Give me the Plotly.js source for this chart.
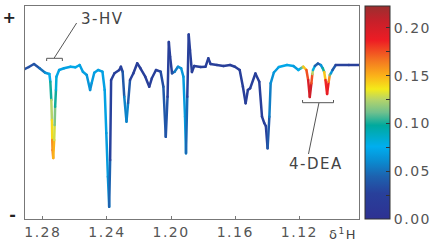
<!DOCTYPE html>
<html>
<head>
<meta charset="utf-8">
<script src="https://cdn.plot.ly/plotly-3.0.1.min.js"></script>
<style>
html,body{margin:0;padding:0;background:#fff;}
#chart{width:442px;height:245px;}
.js-line{stroke-linecap:round;stroke-linejoin:round;}
text{letter-spacing:1.5px;}
.ytick text{letter-spacing:0;}
</style>
</head>
<body>
<div id="chart"></div>
<script>
// chemical shift (ppm)
const shift = [1.2911,1.2887,1.2855,1.2820,1.2785,1.2759,1.2753,1.2747,1.2743,1.2741,1.2739,1.2735,1.2729,1.2726,1.2723,1.2718,1.2715,1.2698,1.2668,1.2627,1.2597,1.2570,1.2550,1.2526,1.2505,1.2495,1.2479,1.2455,1.2428,1.2414,1.2404,1.2394,1.2386,1.2380,1.2374,1.2353,1.2323,1.2313,1.2302,1.2292,1.2278,1.2268,1.2256,1.2235,1.2211,1.2191,1.2161,1.2136,1.2120,1.2094,1.2065,1.2048,1.2033,1.2022,1.2014,1.2006,1.1994,1.1978,1.1957,1.1937,1.1923,1.1913,1.1907,1.1899,1.1890,1.1882,1.1870,1.1856,1.1815,1.1785,1.1768,1.1754,1.1714,1.1673,1.1632,1.1602,1.1572,1.1552,1.1535,1.1521,1.1507,1.1474,1.1450,1.1433,1.1419,1.1409,1.1398,1.1387,1.1379,1.1359,1.1328,1.1277,1.1237,1.1206,1.1188,1.1176,1.1156,1.1145,1.1135,1.1125,1.1119,1.1115,1.1103,1.1084,1.1066,1.1054,1.1045,1.1037,1.1027,1.1017,1.1010,1.1003,1.0993,1.0973,1.0891,1.0827];
// signal intensity (arbitrary units)
const intensity = [-2,0,3,-1.3,-5.7,-7,-14.7,-33,-53,-73,-83,-91,-73,-58,-39.7,-23,-9.7,-3,-1.3,0.3,-0.3,2,-4.7,-8,-23,-16,-5.7,-3,-4.7,-23,-66,-109.7,-139.7,-93,-13,-6.3,-3,0.3,-4.7,-29.7,-54.7,-36,-13,-6.3,3.7,-1.3,-9.7,-19.7,-11.3,-3,-4.7,-19.7,-69.7,-29.7,25,10.3,-6.3,-4.7,0.3,-1.3,-9.7,-49.7,-86.3,-29.7,32.5,17,-5,1,0,0.3,8.7,3,2,1,2,0.3,-3,-19.7,-36.3,-23,-21.3,-6.5,-14.7,-49.7,-56,-59,-81.3,-49.7,-16.3,-5.5,0,2,1,-3,-1,0.3,-3,-13,-30,-16.3,-7,-3,1,3.5,2,-1.3,-5,-13,-27,-14.7,-8,-6.3,-3,2,2,2];
// colour-coded weight
const weight = [0.035,0.035,0.035,0.04,0.06,0.07,0.08,0.12,0.13,0.15,0.17,0.16,0.14,0.12,0.11,0.09,0.075,0.07,0.07,0.07,0.075,0.07,0.07,0.07,0.06,0.065,0.07,0.07,0.07,0.07,0.07,0.065,0.06,0.03,0.025,0.025,0.025,0.025,0.03,0.05,0.065,0.05,0.03,0.025,0.025,0.025,0.025,0.025,0.025,0.025,0.03,0.035,0.045,0.03,0.025,0.025,0.025,0.05,0.06,0.065,0.065,0.07,0.065,0.03,0.025,0.025,0.025,0.025,0.025,0.025,0.025,0.025,0.025,0.025,0.025,0.025,0.025,0.025,0.025,0.025,0.025,0.025,0.025,0.025,0.025,0.025,0.03,0.05,0.06,0.065,0.07,0.075,0.07,0.065,0.09,0.13,0.16,0.19,0.205,0.2,0.15,0.1,0.06,0.03,0.05,0.08,0.12,0.17,0.2,0.18,0.14,0.08,0.05,0.03,0.025,0.025];
const cbTickVals = [0,0.025,0.05,0.075,0.1,0.125,0.15,0.175,0.2];
const cbTickText = ['0.00',' ','0.05',' ','0.10',' ','0.15',' ','0.20'];
const yTickVals = [-147,50];
const yTickText = ['<b>-</b>','<b>+</b>'];

const cmin = 0, cmax = 0.223;
const scale = [
  [0,'#2e3192'],[0.12,'#28409b'],[0.2,'#1d62af'],[0.27,'#0a8bd0'],[0.34,'#00aeef'],
  [0.44,'#00a99d'],[0.5,'#6fc08e'],[0.56,'#b5d46a'],[0.61,'#f4ea1a'],[0.67,'#fbb419'],
  [0.74,'#f47a20'],[0.84,'#ed1c24'],[0.93,'#c6202a'],[1,'#9b2f2f']
];
function hex2rgb(h){return [parseInt(h.slice(1,3),16),parseInt(h.slice(3,5),16),parseInt(h.slice(5,7),16)];}
function colorAt(v){
  let t=(v-cmin)/(cmax-cmin); t=Math.max(0,Math.min(1,t));
  for(let i=0;i<scale.length-1;i++){
    const a=scale[i],b=scale[i+1];
    if(t>=a[0]&&t<=b[0]){
      const f=(t-a[0])/(b[0]-a[0]); const ca=hex2rgb(a[1]),cb=hex2rgb(b[1]);
      return 'rgb('+ca.map((c,k)=>Math.round(c+(cb[k]-c)*f)).join(',')+')';
    }
  }
  return scale[scale.length-1][1];
}

const traces=[];
for(let i=0;i<shift.length-1;i++){
  traces.push({type:'scatter',mode:'lines',x:[shift[i],shift[i+1]],y:[intensity[i],intensity[i+1]],
    line:{color:colorAt((weight[i]+weight[i+1])/2),width:2.5},hoverinfo:'skip',showlegend:false});
}
traces.push({type:'scatter',mode:'markers',x:[shift[0]],y:[intensity[0]],hoverinfo:'skip',showlegend:false,
  marker:{size:0.1,opacity:0,color:[0],cmin:cmin,cmax:cmax,colorscale:scale,showscale:true,
    colorbar:{x:1.0167,xanchor:'left',y:0.5,yanchor:'middle',len:1,lenmode:'fraction',thickness:25,
      xpad:0,ypad:0,outlinewidth:1,outlinecolor:'#333',tickvals:cbTickVals,ticktext:cbTickText,
      ticks:'inside',ticklen:4,tickcolor:'#333',tickfont:{family:'DejaVu Sans',size:14,color:'#555'}}}});

const lineCol='#555';
const layout={
  width:442,height:245,margin:{l:25,r:75,t:6,b:26},paper_bgcolor:'#fff',plot_bgcolor:'#fff',
  font:{family:'DejaVu Sans',color:'#555'},
  xaxis:{range:[1.2911,1.0828],tickvals:[1.28,1.24,1.20,1.16,1.12],ticktext:['1.28','1.24','1.20','1.16','1.12'],
    ticks:'inside',ticklen:3,tickcolor:'#777',showline:true,mirror:true,linecolor:'#777',linewidth:1,
    showgrid:false,zeroline:false,tickfont:{family:'DejaVu Sans',size:14,color:'#555'}},
  yaxis:{range:[-152,61],tickvals:yTickVals,ticktext:yTickText,ticks:'',showline:true,mirror:true,
    linecolor:'#777',linewidth:1,showgrid:false,zeroline:false,ticklabelstandoff:5,
    tickfont:{family:'DejaVu Sans',size:16,color:'#222'}},
  shapes:[
    {type:'path',xref:'x',yref:'y',path:'M1.2776,6 L1.2776,8.7 L1.2678,8.7 L1.2678,6',line:{color:lineCol,width:1}},
    {type:'line',xref:'x',yref:'y',x0:1.2729,y0:9,x1:1.2589,y1:44,line:{color:lineCol,width:1}},
    {type:'path',xref:'x',yref:'y',path:'M1.1180,-33 L1.1180,-35.7 L1.0987,-35.7 L1.0987,-33',line:{color:lineCol,width:1}},
    {type:'line',xref:'x',yref:'y',x0:1.1078,y0:-36,x1:1.1143,y1:-87,line:{color:lineCol,width:1}}
  ],
  annotations:[
    {xref:'x',yref:'y',x:1.2576,y:48,xanchor:'left',yanchor:'middle',text:'3-HV',showarrow:false,
      font:{family:'DejaVu Sans',size:15,color:'#444'}},
    {xref:'x',yref:'y',x:1.1098,y:-97,xanchor:'center',yanchor:'middle',text:'4-DEA',showarrow:false,
      font:{family:'DejaVu Sans',size:15,color:'#444'}},
    {xref:'paper',yref:'paper',x:0.953,y:-0.072,xanchor:'center',yanchor:'middle',text:'δ<sup>1</sup>H',showarrow:false,
      font:{family:'DejaVu Sans',size:13,color:'#444'}}
  ]
};
Plotly.newPlot('chart',traces,layout,{displayModeBar:false,staticPlot:true});
</script>
</body>
</html>
